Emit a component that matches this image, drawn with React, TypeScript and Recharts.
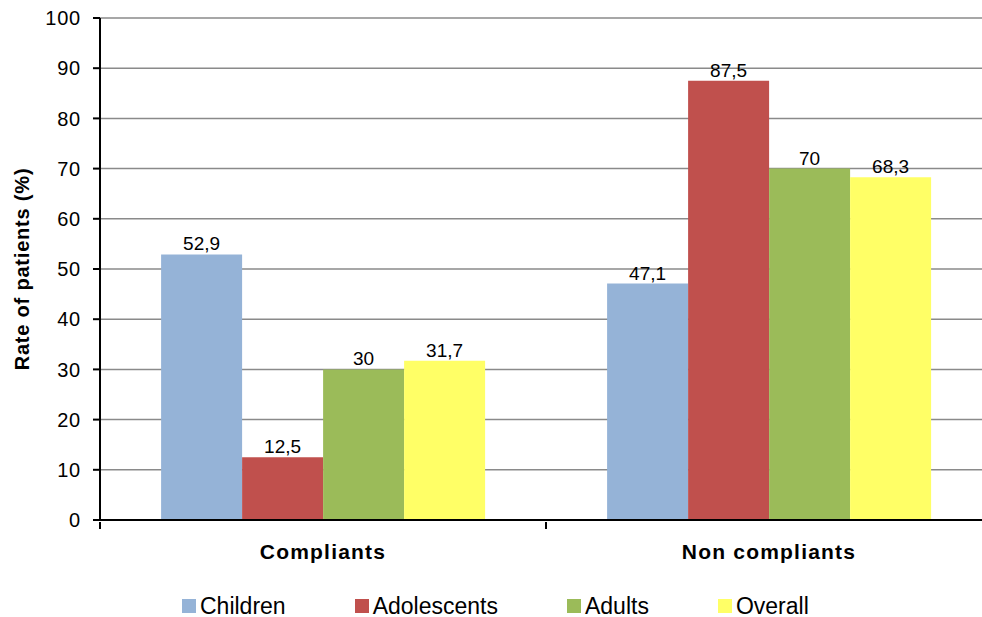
import React from "react"
import {
  BarChart,
  Bar,
  XAxis,
  YAxis,
  CartesianGrid,
  Legend,
  LabelList,
} from "recharts"

const groups = ["Compliants", "Non compliants"]
const children = [52.9, 47.1]
const adolescents = [12.5, 87.5]
const adults = [30, 70]
const overall = [31.7, 68.3]
const yTicks = [0, 10, 20, 30, 40, 50, 60, 70, 80, 90, 100]

const series = [
  { key: "children", name: "Children", color: "#95B3D7" },
  { key: "adolescents", name: "Adolescents", color: "#C0504D" },
  { key: "adults", name: "Adults", color: "#9BBB59" },
  { key: "overall", name: "Overall", color: "#FFFF66" },
]

const data = groups.map((g, i) => ({
  group: g,
  children: children[i],
  adolescents: adolescents[i],
  adults: adults[i],
  overall: overall[i],
}))

const fmt = (v: any) => String(v).replace(".", ",")

function CategoryTick(props: any) {
  const { x, y, payload, index } = props
  const half = payload && payload.offset ? payload.offset : 223
  const top = y
  return (
    <g>
      <line x1={x - half} x2={x - half} y1={top} y2={top + 7} stroke="#000" strokeWidth={2} />
      {index === groups.length - 1 && (
        <line x1={x + half} x2={x + half} y1={top} y2={top + 7} stroke="#000" strokeWidth={2} />
      )}
      <text
        x={x}
        y={top + 37}
        textAnchor="middle"
        fontSize={21}
        fontWeight="bold"
        letterSpacing={1.2}
        fill="#000"
      >
        {payload.value}
      </text>
    </g>
  )
}

function YTitle(props: any) {
  const vb = props.viewBox || { y: 18, height: 502 }
  const cy = vb.y + vb.height / 2
  return (
    <text
      x={22}
      y={cy}
      transform={`rotate(-90 22 ${cy})`}
      textAnchor="middle"
      dominantBaseline="central"
      fontSize={20}
      fontWeight="bold"
      letterSpacing={0.8}
      fill="#000"
    >
      Rate of patients (%)
    </text>
  )
}

function LegendContent() {
  return (
    <div style={{ display: "flex", alignItems: "center", fontSize: 23, color: "#000", lineHeight: "22px" }}>
      {series.map((s, i) => (
        <div
          key={s.key}
          style={{
            display: "flex",
            alignItems: "center",
            whiteSpace: "nowrap",
            flexShrink: 0,
            marginRight: i < series.length - 1 ? 69 : 0,
          }}
        >
          <span style={{ width: 14, height: 14, background: s.color, display: "inline-block", marginRight: 4, flexShrink: 0 }} />
          <span style={{ flexShrink: 0 }}>{s.name}</span>
        </div>
      ))}
    </div>
  )
}

export default function App() {
  return (
    <div
      style={{
        position: "absolute",
        left: 0,
        top: 0,
        width: 982,
        height: 617,
        overflow: "hidden",
        background: "#fff",
        fontFamily: "'Liberation Sans', Arial, sans-serif",
      }}
    >
      <BarChart
        width={1000}
        height={617}
        data={data}
        margin={{ top: 18, right: 8, left: 0, bottom: 0 }}
        barCategoryGap="13.7%"
        barGap={0}
      >
        <CartesianGrid horizontal vertical={false} stroke="#8a8a8a" strokeWidth={1.5} />
        <XAxis
          dataKey="group"
          height={97}
          tickLine={false}
          tickSize={0}
          axisLine={{ stroke: "#000", strokeWidth: 2 }}
          tick={<CategoryTick />}
          interval={0}
        />
        <YAxis
          width={100}
          domain={[0, 100]}
          ticks={yTicks}
          interval={0}
          tickSize={7}
          tickMargin={12}
          tickLine={{ stroke: "#000", strokeWidth: 2 }}
          axisLine={{ stroke: "#000", strokeWidth: 2 }}
          tick={{ fill: "#000", fontSize: 20, letterSpacing: 0.8 }}
          label={<YTitle />}
        />
        <Legend
          verticalAlign="middle"
          align="center"
          content={<LegendContent />}
          wrapperStyle={{ top: 595, left: 182, width: 790 }}
        />
        {series.map((s) => (
          <Bar key={s.key} dataKey={s.key} name={s.name} fill={s.color} isAnimationActive={false}>
            <LabelList
              dataKey={s.key}
              position="top"
              offset={4}
              formatter={fmt}
              fill="#000"
              fontSize={19}
            />
          </Bar>
        ))}
      </BarChart>
    </div>
  )
}
